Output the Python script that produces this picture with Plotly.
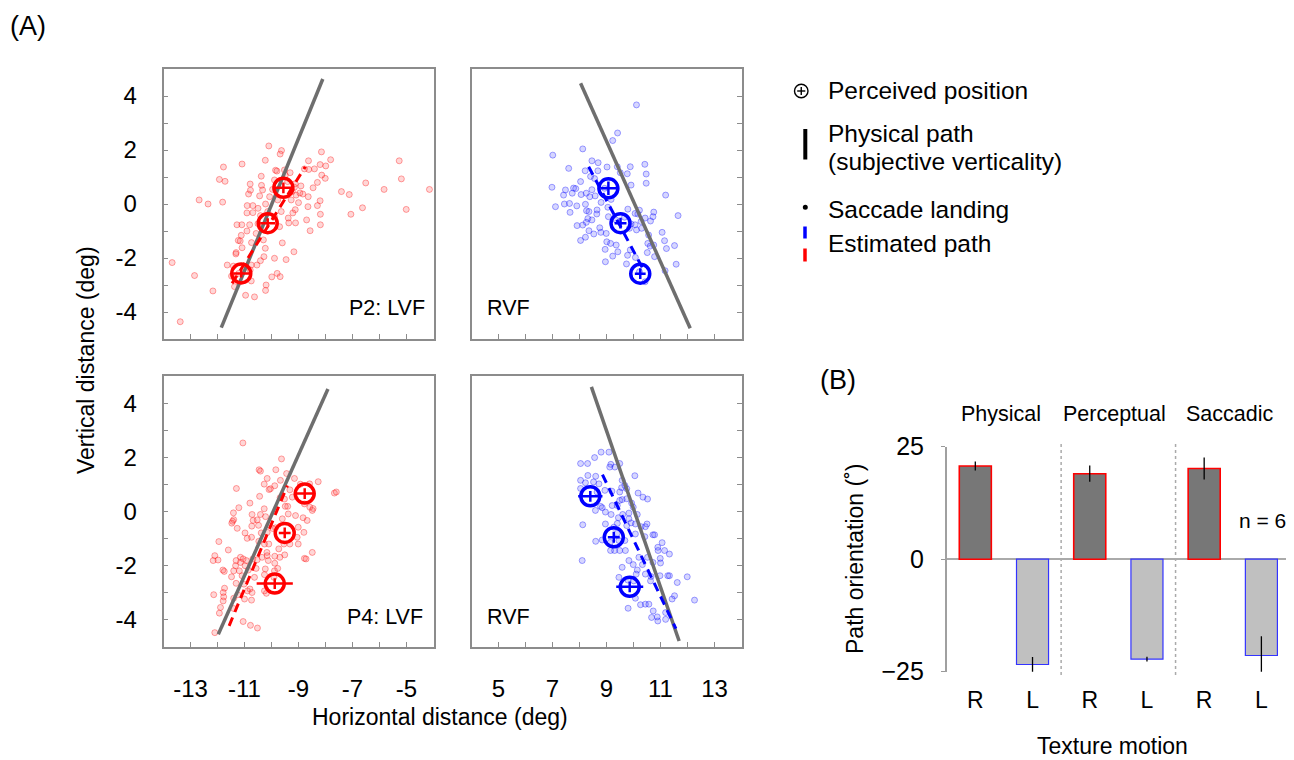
import plotly.graph_objects as go

W, H = 1294, 760
OX, OY = 8, 8  # page body margin compensation (screen px)
FONT = "Arial, 'Liberation Sans', sans-serif"

# ---------------- data: panel (A) ----------------
# saccade landing positions (deg)
p2_lvf_landing = [(-13.68,-2.17),(-13.38,-4.36),(-12.85,-2.65),(-12.17,-3.22),(-12.68,0.15),(-12.35,0.0),(-11.93,0.91),(-11.78,1.37),(-11.72,0.84),(-11.81,0.07),(-11.09,1.48),(-10.1,2.15),(-9.63,1.98),(-9.68,1.85),(-10.23,1.62),(-10.38,1.03),(-9.85,1.25),(-10.79,0.74),(-10.85,0.37),(-10.78,0.51),(-10.37,0.69),(-10.33,0.52),(-10.44,0.3),(-10.9,-0.06),(-10.69,-0.06),(-10.91,-0.33),(-10.69,-0.32),(-11.28,-0.77),(-11.1,-0.77),(-10.81,-0.77),(-11.12,-1.16),(-11.23,-1.35),(-11.16,-1.37),(-10.91,-1.0),(-10.5,-0.73),(-10.41,-0.43),(-10.22,0.0),(-10.07,0.27),(-9.96,0.54),(-9.89,0.89),(-9.8,1.22),(-9.49,1.07),(-9.31,1.16),(-9.4,0.83),(-9.23,0.46),(-9.15,0.62),(-8.91,0.67),(-8.84,0.37),(-9.0,0.05),(-9.12,-0.21),(-9.21,-0.33),(-9.38,-0.52),(-9.36,-0.7),(-9.11,-0.7),(-8.7,-0.59),(-8.57,-0.99),(-8.19,-0.77),(-8.19,-0.38),(-8.2,0.12),(-8.3,-0.06),(-8.65,-0.1),(-8.64,0.27),(-8.46,0.6),(-8.3,0.8),(-8.14,1.07),(-8.01,0.95),(-8.2,1.46),(-7.99,1.41),(-7.81,1.64),(-8.15,1.93),(-8.63,1.6),(-8.41,1.3),(-8.62,1.28),(-8.78,1.3),(-9.52,1.26),(-7.41,0.46),(-7.12,0.35),(-7.06,-0.38),(-6.63,-0.14),(-6.51,0.78),(-5.83,0.54),(-5.27,1.6),(-5.19,0.93),(-5.01,-0.2),(-4.15,0.54),(-11.31,-1.8),(-11.32,-1.85),(-11.09,-1.62),(-10.74,-1.43),(-10.57,-1.09),(-10.3,-1.33),(-10.23,-1.64),(-10.28,-1.95),(-10.41,-2.1),(-10.54,-2.26),(-10.75,-2.26),(-10.79,-2.44),(-10.75,-2.85),(-10.96,-3.38),(-10.63,-3.44),(-10.2,-3.0),(-10.22,-3.2),(-9.99,-2.7),(-9.79,-2.57),(-9.68,-2.69),(-9.89,-2.01),(-9.6,-1.44),(-9.46,-2.06),(-9.17,-1.77),(-11.48,-2.67),(-11.37,-3.06),(-11.21,-2.57),(-11.64,-2.26),(-11.41,-2.3),(-9.77,0.15),(-9.64,-0.28),(-9.27,0.15),(-9.09,0.33),(-10.14,-0.28),(-9.89,-0.47),(-9.7,-0.84),(-10.5,-0.16),(-8.95,0.41),(-9.12,0.75)]

p2_rvf_landing = [(7.01,1.81),(8.12,2.04),(7.6,1.32),(6.98,0.62),(7.11,-0.1),(7.44,0.0),(7.63,0.02),(7.65,-0.31),(7.48,0.52),(7.41,0.33),(7.73,0.4),(7.78,0.59),(7.86,0.57),(8.04,0.83),(8.06,0.35),(7.9,-0.07),(8.22,-0.01),(8.26,-0.25),(8.35,-0.28),(8.31,-0.54),(8.25,-0.68),(8.35,-0.99),(8.04,-1.35),(8.22,-1.23),(8.53,-1.11),(8.46,1.6),(8.21,1.23),(8.41,1.02),(8.69,1.53),(8.68,1.23),(9.02,1.37),(8.56,0.94),(8.46,0.53),(8.58,0.3),(8.8,0.06),(8.65,-0.22),(8.64,-0.37),(8.75,-0.88),(8.99,-1.09),(9.01,-1.4),(9.15,-1.46),(9.36,-1.52),(8.95,-1.68),(9.23,-1.93),(8.96,-2.14),(9.42,-1.77),(9.74,-2.22),(9.88,-1.7),(9.78,-1.9),(10.07,-1.98),(9.85,-0.9),(9.91,-0.74),(10.11,-0.96),(10.3,-0.9),(10.56,-1.15),(10.53,-1.46),(10.62,-1.56),(10.75,-1.52),(10.51,-1.8),(10.78,-1.95),(11.06,-1.05),(11.15,-1.36),(11.22,-1.65),(11.52,-1.54),(11.58,-2.23),(11.17,-2.47),(10.43,-2.88),(10.22,-2.51),(11.19,0.33),(11.65,-0.43),(10.75,-0.3),(10.72,-0.47),(10.63,-0.63),(10.43,-0.52),(10.22,-0.23),(10.16,-0.37),(10.06,-0.35),(9.79,-0.19),(9.91,0.7),(9.77,1.12),(9.51,1.16),(9.4,1.38),(10.47,1.11),(10.42,1.47),(10.47,0.77),(9.88,1.38),(9.41,2.63),(9.23,2.35),(10.11,3.67),(9.17,0.17),(9.05,-0.12),(8.93,0.58),(8.25,0.4),(8.38,0.27),(9.36,-0.6),(9.67,-0.49),(10.28,-0.65),(10.06,-0.77),(7.91,-0.8),(8.12,-0.78),(8.46,-0.59),(9.07,-0.47),(8.79,-1.05)]

p4_lvf_landing = [(-11.06,2.53),(-9.63,1.94),(-10.46,1.54),(-10.41,1.49),(-9.84,1.54),(-9.44,1.4),(-10.16,1.22),(-9.15,1.22),(-9.67,1.15),(-10.27,1.01),(-9.88,0.95),(-10.04,0.84),(-10.09,0.81),(-11.3,0.85),(-9.32,0.8),(-8.93,1.01),(-8.59,1.02),(-8.27,1.1),(-7.67,0.68),(-7.6,0.72),(-8.46,0.11),(-10.44,0.56),(-9.68,0.51),(-9.52,0.46),(-9.4,0.19),(-9.49,0.19),(-10.27,0.1),(-10.8,0.31),(-11.21,0.14),(-11.41,-0.05),(-11.4,-0.3),(-11.44,-0.36),(-11.27,-0.62),(-10.98,-0.79),(-10.73,-0.54),(-10.68,-0.33),(-10.53,-0.31),(-10.41,-0.11),(-10.22,-0.19),(-10.72,-0.11),(-10.48,-0.51),(-10.38,-0.79),(-10.74,-0.95),(-10.9,-0.99),(-10.47,-1.1),(-10.1,-1.2),(-10.16,-0.77),(-9.95,-0.63),(-9.85,-0.6),(-9.6,-0.27),(-9.38,-0.09),(-9.11,-0.15),(-8.83,-0.23),(-8.8,-0.77),(-9.05,-0.95),(-9.01,-0.58),(-9.32,-1.2),(-9.51,-1.6),(-9.69,-1.69),(-9.88,-1.65),(-9.88,-1.91),(-10.12,-1.81),(-10.17,-1.51),(-10.35,-1.69),(-10.53,-1.78),(-10.69,-1.75),(-11.15,-1.69),(-11.05,-1.75),(-10.93,-1.81),(-11.15,-1.88),(-11.31,-1.81),(-11.33,-2.0),(-11.19,-2.19),(-11.4,-2.19),(-10.98,-2.0),(-10.86,-2.16),(-10.57,-2.1),(-10.63,-2.43),(-11.09,-2.37),(-11.48,-2.41),(-11.31,-2.65),(-11.02,-2.68),(-10.8,-2.86),(-10.89,-2.93),(-10.72,-2.99),(-11.0,-3.23),(-10.74,-3.27),(-11.25,-3.07),(-11.4,-3.2),(-11.74,-2.83),(-11.79,-2.99),(-11.77,-3.15),(-11.79,-3.3),(-12.14,-3.07),(-11.89,-3.54),(-11.93,-3.75),(-11.4,-3.58),(-11.05,-4.06),(-10.78,-4.2),(-10.52,-4.3),(-12.1,-4.47),(-12.16,-1.81),(-12.1,-1.63),(-11.98,-1.79),(-11.8,-2.16),(-11.75,-2.21),(-11.95,-1.11),(-11.6,-1.42),(-11.47,-0.43),(-10.26,-1.2),(-9.73,-1.38),(-9.54,-1.2),(-10.16,-1.63),(-10.23,-2.12),(-10.26,-2.33),(-9.91,-2.43),(-8.78,-1.73),(-8.72,-1.75),(-8.49,-1.51),(-9.01,-1.2),(-9.89,-2.19),(-9.77,-2.1),(-10.19,-3.02),(-10.26,-2.93),(-8.68,-0.33),(-8.58,0.16),(-8.49,0.04),(-8.78,0.28),(-9.23,0.53)]

p4_rvf_landing = [(8.8,2.19),(9.09,2.19),(8.56,1.99),(8.04,1.77),(8.3,1.77),(9.16,1.74),(9.12,1.64),(9.31,1.64),(9.49,1.77),(10.05,1.32),(8.6,1.3),(8.31,1.33),(8.72,1.02),(8.52,1.09),(8.22,1.06),(8.04,1.15),(8.04,0.85),(9.58,1.15),(9.68,0.96),(9.56,0.88),(9.49,0.72),(9.75,0.84),(9.2,0.75),(8.94,0.78),(8.65,0.72),(10.17,0.68),(10.35,0.53),(10.52,0.46),(9.75,0.47),(9.58,0.44),(9.49,0.41),(9.93,0.31),(9.99,0.16),(9.4,0.22),(9.21,0.22),(8.78,0.19),(8.84,0.14),(8.59,0.04),(8.96,-0.02),(9.17,-0.11),(9.44,-0.23),(9.6,-0.11),(9.83,-0.06),(10.14,-0.11),(9.83,-0.27),(9.75,-0.52),(9.91,-0.42),(10.28,-0.56),(10.5,-0.46),(10.44,-0.56),(10.07,-0.46),(9.4,-0.44),(9.27,-0.58),(8.96,-0.46),(8.12,-0.49),(8.1,-1.81),(9.15,-1.44),(9.3,-1.44),(9.49,-1.44),(9.7,-1.44),(10.07,-0.83),(10.42,-0.93),(10.72,-0.86),(10.78,-0.86),(10.9,-1.32),(10.91,-1.44),(11.06,-1.15),(11.15,-1.44),(11.33,-1.57),(10.99,-1.73),(11.0,-1.9),(10.72,-1.88),(10.52,-1.69),(10.2,-1.69),(9.83,-1.81),(9.99,-1.96),(10.14,-2.16),(10.33,-1.96),(10.1,-2.31),(10.44,-2.31),(10.65,-2.4),(10.98,-2.37),(11.27,-2.37),(11.33,-2.37),(11.62,-2.62),(11.99,-2.41),(12.26,-3.27),(11.52,-3.11),(11.43,-3.23),(10.07,-3.2),(9.8,-3.57),(10.26,-3.44),(10.44,-3.42),(10.57,-3.42),(10.73,-3.67),(10.67,-3.91),(10.9,-4.04),(10.88,-3.89),(11.19,-3.73),(11.19,-3.98),(10.63,-2.56),(9.58,-2.06),(9.46,-2.43),(9.79,-2.53),(10.01,-2.56),(9.68,-1.07),(9.46,-1.07),(9.14,-1.14),(9.4,-0.8),(8.6,-1.1),(8.84,-1.05)]

# physical path (subjective verticality), line end points
p2_lvf_phys_x = [-11.86, -8.10]; p2_lvf_phys_y = [-4.58, 4.63]
p2_rvf_phys_x = [8.04, 12.10];   p2_rvf_phys_y = [4.47, -4.60]
p4_lvf_phys_x = [-11.97, -7.91]; p4_lvf_phys_y = [-4.53, 4.52]
p4_rvf_phys_x = [8.44, 11.69];   p4_rvf_phys_y = [4.60, -4.78]

# estimated path from saccade landings
p2_lvf_est_x = [-11.46, -8.75]; p2_lvf_est_y = [-2.94, 1.38]
p2_rvf_est_x = [8.34, 10.37];   p2_rvf_est_y = [1.38, -2.44]
p4_lvf_est_x = [-11.57, -9.41]; p4_lvf_est_y = [-4.22, 0.96]
p4_rvf_est_x = [8.85, 11.57];   p4_rvf_est_y = [1.36, -4.32]

# perceived positions with errors
p2_lvf_perc_x = [-9.56, -10.14, -11.12]; p2_lvf_perc_y = [0.60, -0.71, -2.57]
p2_lvf_perc_ex = [0.33, 0.28, 0.30];     p2_lvf_perc_ey = [0.20, 0.18, 0.15]
p2_rvf_perc_x = [9.07, 9.52, 10.25];     p2_rvf_perc_y = [0.58, -0.71, -2.58]
p2_rvf_perc_ex = [0.30, 0.22, 0.20];     p2_rvf_perc_ey = [0.25, 0.20, 0.20]
p4_lvf_perc_x = [-8.77, -9.51, -9.88];   p4_lvf_perc_y = [0.66, -0.79, -2.66]
p4_lvf_perc_ex = [0.35, 0.22, 0.67];     p4_lvf_perc_ey = [0.20, 0.20, 0.20]
p4_rvf_perc_x = [8.40, 9.27, 9.86];      p4_rvf_perc_y = [0.56, -0.95, -2.78]
p4_rvf_perc_ex = [0.45, 0.22, 0.50];     p4_rvf_perc_ey = [0.20, 0.20, 0.20]

panel_labels = ["P2: LVF", "RVF", "P4: LVF", "RVF"]
lvf_ticks = list(range(-13, -4))
rvf_ticks = list(range(5, 14))
y_ticks = list(range(-4, 5))

# ---------------- data: panel (B) ----------------
motion = ["R", "L", "R", "L", "R", "L"]
path_groups = ["Physical", "Perceptual", "Saccadic"]
orientation = [20.7, -23.4, 19.0, -22.2, 20.15, -21.4]
orientation_err = [1.0, 1.65, 1.8, 0.55, 2.45, 4.3]


# ---------------- layout geometry (screen px -> paper) ----------------
def px(x):
    return (x - OX) / W


def py(y):
    return 1 - (y - OY) / H


xdom_L = [px(163.5), px(433.5)]
xdom_R = [px(471.5), px(741.5)]
ydom_T = [py(339), py(69)]
ydom_B = [py(647), py(376)]

RED = "#ff0000"
BLUE = "#0000ff"
GRAY_LINE = "#6e6e6e"
FRAME = "#8c8c8c"

fig = go.Figure()

panels = [
    dict(n="", land=p2_lvf_landing, px=p2_lvf_phys_x, py=p2_lvf_phys_y, ex=p2_lvf_est_x, ey=p2_lvf_est_y,
         cx=p2_lvf_perc_x, cy=p2_lvf_perc_y, cex=p2_lvf_perc_ex, cey=p2_lvf_perc_ey, col=RED),
    dict(n="2", land=p2_rvf_landing, px=p2_rvf_phys_x, py=p2_rvf_phys_y, ex=p2_rvf_est_x, ey=p2_rvf_est_y,
         cx=p2_rvf_perc_x, cy=p2_rvf_perc_y, cex=p2_rvf_perc_ex, cey=p2_rvf_perc_ey, col=BLUE),
    dict(n="3", land=p4_lvf_landing, px=p4_lvf_phys_x, py=p4_lvf_phys_y, ex=p4_lvf_est_x, ey=p4_lvf_est_y,
         cx=p4_lvf_perc_x, cy=p4_lvf_perc_y, cex=p4_lvf_perc_ex, cey=p4_lvf_perc_ey, col=RED),
    dict(n="4", land=p4_rvf_landing, px=p4_rvf_phys_x, py=p4_rvf_phys_y, ex=p4_rvf_est_x, ey=p4_rvf_est_y,
         cx=p4_rvf_perc_x, cy=p4_rvf_perc_y, cex=p4_rvf_perc_ex, cey=p4_rvf_perc_ey, col=BLUE),
]

for p in panels:
    xa, ya = "x" + p["n"], "y" + p["n"]
    if p["col"] == RED:
        dot_fill, dot_line = "rgba(255,70,70,0.22)", "rgba(255,0,0,0.35)"
    else:
        dot_fill, dot_line = "rgba(70,70,255,0.22)", "rgba(0,0,255,0.35)"
    lx = [a for a, b in p["land"]]
    ly = [b for a, b in p["land"]]
    fig.add_trace(go.Scatter(x=lx, y=ly, mode="markers", xaxis=xa, yaxis=ya, showlegend=False,
                             marker=dict(size=6, color=dot_fill, line=dict(color=dot_line, width=1))))
    fig.add_trace(go.Scatter(x=p["px"], y=p["py"], mode="lines", xaxis=xa, yaxis=ya, showlegend=False,
                             line=dict(color=GRAY_LINE, width=3.5)))
    fig.add_trace(go.Scatter(x=p["ex"], y=p["ey"], mode="lines", xaxis=xa, yaxis=ya, showlegend=False,
                             line=dict(color=p["col"], width=3, dash="9px,6px")))
    fig.add_trace(go.Scatter(x=p["cx"], y=p["cy"], mode="markers", xaxis=xa, yaxis=ya, showlegend=False,
                             marker=dict(symbol="circle-open", size=19, color=p["col"],
                                         line=dict(color=p["col"], width=3.5)),
                             error_x=dict(type="data", array=p["cex"], color=p["col"], thickness=2.5, width=0),
                             error_y=dict(type="data", array=p["cey"], color=p["col"], thickness=2.5, width=0)))


def frame_axis(**kw):
    base = dict(showline=True, linecolor=FRAME, linewidth=1.5, mirror=True,
                ticks="inside", ticklen=5, tickwidth=1.2, tickcolor=FRAME,
                showgrid=False, zeroline=False, automargin=False,
                tickfont=dict(size=24, color="black", family=FONT))
    base.update(kw)
    return base


def tick_text(vals):
    return [str(v) if v % 2 else "" for v in vals]


def ytick_text(vals):
    return [str(v) if v % 2 == 0 else "" for v in vals]


fig.update_layout(
    xaxis=frame_axis(domain=xdom_L, anchor="y", range=[-14, -4], tickvals=lvf_ticks,
                     ticktext=tick_text(lvf_ticks), showticklabels=False),
    yaxis=frame_axis(domain=ydom_T, anchor="x", range=[-5, 5], tickvals=y_ticks,
                     ticktext=ytick_text(y_ticks), ticklabelstandoff=20),
    xaxis2=frame_axis(domain=xdom_R, anchor="y2", range=[4, 14], tickvals=rvf_ticks,
                      ticktext=tick_text(rvf_ticks), showticklabels=False),
    yaxis2=frame_axis(domain=ydom_T, anchor="x2", range=[-5, 5], tickvals=y_ticks,
                      side="right", showticklabels=False),
    xaxis3=frame_axis(domain=xdom_L, anchor="y3", range=[-14, -4], tickvals=lvf_ticks,
                      ticktext=tick_text(lvf_ticks), ticklabelstandoff=19),
    yaxis3=frame_axis(domain=ydom_B, anchor="x3", range=[-5, 5], tickvals=y_ticks,
                      ticktext=ytick_text(y_ticks), ticklabelstandoff=20),
    xaxis4=frame_axis(domain=xdom_R, anchor="y4", range=[4, 14], tickvals=rvf_ticks,
                      ticktext=tick_text(rvf_ticks), ticklabelstandoff=19),
    yaxis4=frame_axis(domain=ydom_B, anchor="x4", range=[-5, 5], tickvals=y_ticks,
                      side="right", showticklabels=False),
)

# ---------------- panel (B) bars ----------------
bar_x = list(range(len(motion)))
fills = ["#777777" if m == "R" else "#c0c0c0" for m in motion]
edges = [RED if m == "R" else "#3333ff" for m in motion]
edge_w = [1.6 if m == "R" else 1.2 for m in motion]
fig.add_trace(go.Bar(x=bar_x, y=orientation, width=0.56, xaxis="x5", yaxis="y5", showlegend=False,
                     marker=dict(color=fills, line=dict(color=edges, width=edge_w)),
                     error_y=dict(type="data", array=orientation_err, color="black",
                                  thickness=1.3, width=0)))

fig.update_layout(
    xaxis5=dict(domain=[px(946.7), px(1290)], anchor="y5", range=[-0.5, 5.5],
                tickvals=bar_x, ticktext=motion, showline=False, ticks="", showgrid=False,
                zeroline=False, ticklabelstandoff=12, automargin=False,
                tickfont=dict(size=23, color="black", family=FONT)),
    yaxis5=dict(domain=[py(671.7), py(446.7)], anchor="x5", range=[-25, 25],
                tickvals=[-25, 0, 25], ticks="outside", ticklen=4, tickcolor="#999999",
                showline=True, linecolor="#a0a0a0", linewidth=1.5, showgrid=False,
                zeroline=True, zerolinecolor="#aaaaaa", zerolinewidth=2, automargin=False,
                ticklabelstandoff=12, tickfont=dict(size=25, color="black", family=FONT)),
)

shapes = []
for sep in [1.5, 3.5]:
    shapes.append(dict(type="line", xref="x5", yref="paper", x0=sep, x1=sep,
                       y0=py(675), y1=py(441.7),
                       line=dict(color="#aaaaaa", width=1.5, dash="dot")))

# legend symbols (paper coordinates)
shapes += [
    dict(type="circle", xref="paper", yref="paper", x0=px(794.5), x1=px(808), y0=py(97.7), y1=py(84.2),
         line=dict(color="black", width=1.4)),
    dict(type="line", xref="paper", yref="paper", x0=px(797.2), x1=px(805.3), y0=py(91), y1=py(91),
         line=dict(color="black", width=1.4)),
    dict(type="line", xref="paper", yref="paper", x0=px(801.25), x1=px(801.25), y0=py(87), y1=py(95),
         line=dict(color="black", width=1.4)),
    dict(type="line", xref="paper", yref="paper", x0=px(805.3), x1=px(805.3), y0=py(129), y1=py(159.5),
         line=dict(color="black", width=4)),
    dict(type="circle", xref="paper", yref="paper", x0=px(802.8), x1=px(807.8), y0=py(209.8), y1=py(204.8),
         fillcolor="black", line=dict(color="black", width=0)),
    dict(type="line", xref="paper", yref="paper", x0=px(805.0), x1=px(805.0), y0=py(226.5), y1=py(238.5),
         line=dict(color=BLUE, width=3.5)),
    dict(type="line", xref="paper", yref="paper", x0=px(805.0), x1=px(805.0), y0=py(248.5), y1=py(261.5),
         line=dict(color=RED, width=3.5)),
]

ann = []


def text(s, x, y, size, xanchor="center", yanchor="middle", angle=0):
    ann.append(dict(text=s, x=px(x), y=py(y), xref="paper", yref="paper", showarrow=False,
                    xanchor=xanchor, yanchor=yanchor, textangle=angle,
                    font=dict(size=size, color="black", family=FONT)))


text("(A)", 28, 26, 27)
text("(B)", 838, 380, 27)
text("Vertical distance (deg)", 86, 360, 23, angle=-90)
text("Horizontal distance (deg)", 440, 717, 23)
text("Path orientation (˚)", 855, 559, 23, angle=-90)
text("Texture motion", 1112, 746, 23)
text("n = 6", 1288, 520, 21, xanchor="right")

# panel labels
text(panel_labels[0], 427, 308, 21.5, xanchor="right")
text(panel_labels[1], 485, 308, 21.5, xanchor="left")
text(panel_labels[2], 425, 617, 21.5, xanchor="right")
text(panel_labels[3], 485, 617, 21.5, xanchor="left")

# group labels
for g, xg in zip(path_groups, [1000.7, 1114.3, 1229.0]):
    text(g, xg, 414, 21.5)

# legend texts
text("Perceived position", 826, 91, 24.5, xanchor="left")
text("Physical path", 826, 133, 24.5, xanchor="left")
text("(subjective verticality)", 826, 162, 24.5, xanchor="left")
text("Saccade landing", 826, 209, 24.5, xanchor="left")
text("Estimated path", 826, 243, 24.5, xanchor="left")

fig.update_layout(
    template="none",
    width=W, height=H, margin=dict(l=0, r=0, t=0, b=0, pad=0, autoexpand=False),
    paper_bgcolor="white", plot_bgcolor="white",
    font=dict(family=FONT, color="black"),
    shapes=shapes, annotations=ann, showlegend=False,
)

fig.write_html("out.html")
